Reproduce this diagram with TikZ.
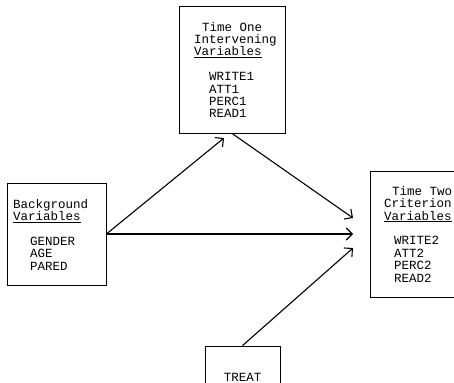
\documentclass[tikz,border=0pt]{standalone}
\usepackage{fontspec}
\setmonofont{Liberation Mono}
\usetikzlibrary{arrows.meta}

\begin{document}
\begin{tikzpicture}[x=1pt, y=-1pt,
    varbox/.style ={rectangle, draw, line width=0.8pt, inner sep=0pt},
    vartext/.style ={font=\ttfamily\fontsize{12.5}{12.4}\selectfont, align=left, inner sep=0pt, anchor=base west},
    link/.style ={line width=1.1pt, -{Straight Barb[length=6pt,width=12pt]}}]
   \useasboundingbox (0,0) rectangle (454,382);
   \clip (0,0) rectangle (454,382);

   \node[varbox, minimum width=106pt, minimum height=127pt] (time1)  at (232,69.5)  {};
   \node[varbox, minimum width=99pt, minimum height=102pt]  (backgr) at (56.5,234)  {};
   \node[varbox, minimum width=104pt, minimum height=126pt] (time2)  at (422,234)  {};
   \node[varbox, minimum width=75pt, minimum height=62pt, font=\ttfamily\fontsize{12.5}{12.4}\selectfont] (treat) at (242.5,377) {TREAT};

   % the base of each text is the baseline of its last line
   \node[vartext] (time1txt)  at (194,118)  {\hspace*{8pt}Time One\\Intervening\\\underline{Variables}\\[12.4pt]
      \hspace*{15pt}WRITE1\\\hspace*{15pt}ATT1\\\hspace*{15pt}PERC1\\\hspace*{15pt}READ1};
   \node[vartext] (backgrtxt) at (13,270)  {Background\\\underline{Variables}\\[12.4pt]
      \hspace*{17pt}GENDER\\\hspace*{17pt}AGE\\\hspace*{17pt}PARED};
   \node[vartext] (time2txt)  at (384,282) {\hspace*{8pt}Time Two\\Criterion\\\underline{Variables}\\[12.4pt]
      \hspace*{10pt}WRITE2\\\hspace*{10pt}ATT2\\\hspace*{10pt}PERC2\\\hspace*{10pt}READ2};

   \coordinate (tipA) at (224,138);
   \coordinate (tipB) at (353,218);
   \coordinate (tipC) at (353,234);
   \coordinate (tipD) at (353,248);

   \draw[link] (backgr.east) to (tipA);
   \draw[link] (backgr.east) to (tipC);
   \draw[link] (time1.south) to (tipB);
   \draw[link] (treat.north) to (tipD);

 \end{tikzpicture}
\end{document}
